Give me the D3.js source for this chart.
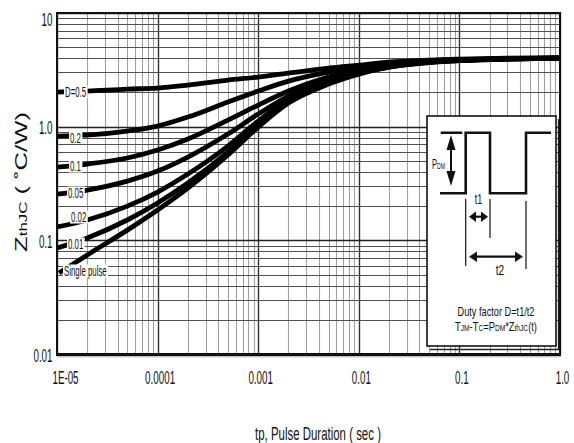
<!DOCTYPE html>
<html><head><meta charset="utf-8">
<script src="https://cdn.jsdelivr.net/npm/d3@7"></script>
<style>body{margin:0;background:#fff;} svg{display:block;font-family:"Liberation Sans",Arial,sans-serif;}</style>
</head><body>
<script>
// ---- data ----
const times = [1e-5, 2e-5, 5e-5, 1e-4, 2e-4, 5e-4, 1e-3, 2e-3, 5e-3, 1e-2, 2e-2, 5e-2, 0.1, 0.3, 1];
const singleTimes = [1.05e-5, 2e-5, 5e-5, 1e-4, 2e-4, 5e-4, 1e-3, 2e-3, 5e-3, 1e-2, 2e-2, 5e-2, 0.1, 0.3, 1];
const d050 = [2.015, 2.056, 2.141, 2.185, 2.322, 2.570, 2.731, 2.961, 3.276, 3.481, 3.700, 3.853, 3.932, 4.012, 4.053];
const d020 = [0.827, 0.844, 0.915, 1.012, 1.214, 1.646, 2.056, 2.518, 3.021, 3.343, 3.625, 3.814, 3.892, 3.972, 4.012];
const d010 = [0.441, 0.469, 0.530, 0.623, 0.778, 1.143, 1.549, 2.056, 2.731, 3.146, 3.481, 3.776, 3.853, 3.972, 4.012];
const d005 = [0.255, 0.277, 0.332, 0.407, 0.540, 0.861, 1.291, 1.858, 2.570, 3.083, 3.412, 3.700, 3.853, 3.972, 4.012];
const d002 = [0.131, 0.151, 0.200, 0.266, 0.383, 0.675, 1.120, 1.749, 2.468, 3.021, 3.377, 3.700, 3.814, 3.932, 4.012];
const d001 = [0.0855, 0.105, 0.151, 0.213, 0.319, 0.598, 1.033, 1.680, 2.418, 2.961, 3.343, 3.700, 3.814, 3.932, 4.012];
const single = [0.0516, 0.0743, 0.123, 0.185, 0.288, 0.563, 0.992, 1.613, 2.370, 2.901, 3.343, 3.662, 3.814, 3.932, 4.012];
const seriesLabels = ["D=0.5", "0.2", "0.1", "0.05", "0.02", "0.01", "Single pulse"];
const xTickValues = [1e-5, 1e-4, 1e-3, 1e-2, 1e-1, 1];
const xTickLabels = ["1E-05", "0.0001", "0.001", "0.01", "0.1", "1.0"];
const yTickValues = [0.01, 0.1, 1, 10];
const yTickLabels = ["0.01", "0.1", "1.0", "10"];

const W = 574, H = 443;
const L = 57, R = 560, T = 13, B = 354;
const svg = d3.select("body").append("svg").attr("width", W).attr("height", H);

const x = d3.scaleLog().domain([1e-5, 1]).range([L, R]);
const y = d3.scaleLog().domain([0.01, 10]).range([B, T]);
const isDecade = v => Math.abs(Math.log10(v) - Math.round(Math.log10(v))) < 1e-6;

function ctext(parent, px, py, str, size, sx, anchor, rot) {
  const g = parent.append("g").attr("transform", `translate(${px},${py})` + (rot ? ` rotate(${rot})` : ""));
  const t = g.append("text").attr("font-size", size).attr("text-anchor", anchor || "start").attr("fill", "#111");
  if (typeof str === "string") t.text(str);
  else str.forEach(p => t.append("tspan").attr("font-size", p[1]).attr("dy", p[2] || 0).text(p[0]));
  t.attr("transform", `scale(${sx},1)`);
  return t;
}
function fitText(parent, px, py, str, size, width, anchor, rot) {
  const t = ctext(parent, px, py, str, size, 1, anchor, rot);
  const w = t.node().getComputedTextLength();
  t.attr("transform", `scale(${width / w},1)`);
  return t;
}

// ---- grid ----
const grid = svg.append("g");
x.ticks().forEach(v => {
  const xp = Math.round(x(v)) + 0.5;
  grid.append("line").attr("x1", xp).attr("x2", xp).attr("y1", T).attr("y2", B)
    .attr("stroke", isDecade(v) ? "#333" : "#a0a0a0").attr("stroke-width", isDecade(v) ? 1.4 : 1.1);
});
y.ticks().forEach(v => {
  const yp = Math.round(y(v)) + 0.5;
  grid.append("line").attr("x1", L).attr("x2", R).attr("y1", yp).attr("y2", yp)
    .attr("stroke", isDecade(v) ? "#222" : "#505050").attr("stroke-width", isDecade(v) ? 1.5 : 1.2);
});

// ---- curves ----
svg.append("clipPath").attr("id", "clip").append("rect").attr("x", L).attr("y", T).attr("width", R - L).attr("height", B - T);
const series = [
  {t: times, v: d050}, {t: times, v: d020}, {t: times, v: d010}, {t: times, v: d005},
  {t: times, v: d002}, {t: times, v: d001}, {t: singleTimes, v: single}
];
const line = d3.line().x(d => x(d[0])).y(d => y(d[1])).curve(d3.curveMonotoneX);
const cg = svg.append("g").attr("clip-path", "url(#clip)");
series.forEach(s => {
  cg.append("path").attr("d", line(s.t.map((t, i) => [t, s.v[i]])))
    .attr("fill", "none").attr("stroke", "#000").attr("stroke-width", 4.8).attr("stroke-linejoin", "round");
});

// ---- curve labels ----
const labelPos = [[65, 92], [70, 137.5], [70, 166], [68, 193], [71, 217], [68, 244], [64, 271]];
const lg = svg.append("g");
seriesLabels.forEach((s, i) => {
  const [lx, ly] = labelPos[i];
  const rect = lg.append("rect").attr("fill", "#fff");
  const t = ctext(lg, lx, ly + 5, s, 14, 0.56, "start");
  const w = t.node().getComputedTextLength() * 0.56;
  rect.attr("x", lx - 1).attr("y", ly - 6.5).attr("width", w + 2.5).attr("height", 13);
});

// ---- inset ----
const ins = svg.append("g");
ins.append("path").attr("d", "M430,349.5 H558.5 V119").attr("fill", "none").attr("stroke", "#222").attr("stroke-width", 1.3);
ins.append("rect").attr("x", 427).attr("y", 116).attr("width", 129).attr("height", 230)
  .attr("fill", "#fff").attr("stroke", "#111").attr("stroke-width", 1.6);
ins.append("path").attr("d", "M440,193.3 H465.7 V132.7 H490 V193.3 H526 V132.7 H551 M440.7,132.7 H462.3")
  .attr("fill", "none").attr("stroke", "#111").attr("stroke-width", 2.6);
[[465.7, 199, 266], [490, 199, 238], [526, 201, 269]].forEach(([lx, y1, y2]) =>
  ins.append("line").attr("x1", lx).attr("x2", lx).attr("y1", y1).attr("y2", y2).attr("stroke", "#111").attr("stroke-width", 1.2));
ins.append("line").attr("x1", 451).attr("x2", 451).attr("y1", 145).attr("y2", 176).attr("stroke", "#111").attr("stroke-width", 2);
ins.append("path").attr("d", "M451,135 L446.5,150 L455.5,150 Z M451,186 L446.5,171 L455.5,171 Z").attr("fill", "#111");
ins.append("line").attr("x1", 474).attr("x2", 483).attr("y1", 216.7).attr("y2", 216.7).attr("stroke", "#111").attr("stroke-width", 2.2);
ins.append("path").attr("d", "M469,216.7 L476,211.5 L476,221.9 Z M488,216.7 L481,211.5 L481,221.9 Z").attr("fill", "#111");
ins.append("line").attr("x1", 475).attr("x2", 517).attr("y1", 256.7).attr("y2", 256.7).attr("stroke", "#111").attr("stroke-width", 2.2);
ins.append("path").attr("d", "M469,256.7 L477,251.5 L477,261.9 Z M523,256.7 L515,251.5 L515,261.9 Z").attr("fill", "#111");
fitText(ins, 432, 169, [["P", 14], ["DM", 9.5]], 14, 13, "start");
fitText(ins, 478.5, 203.5, "t1", 14, 7.5, "middle");
fitText(ins, 500, 274.5, "t2", 14, 8.5, "middle");
fitText(ins, 496, 316, "Duty factor D=t1/t2", 12, 77, "middle");
fitText(ins, 496, 330.5, [["T", 12], ["JM", 8.5], ["-T", 12], ["C", 8.5], ["=P", 12], ["DM", 8.5], ["*Z", 12], ["thJC", 8.5], ["(t)", 12]], 12, 82, "middle");

// ---- frame ----
const fr = svg.append("g").attr("fill", "none").attr("stroke", "#111");
fr.append("line").attr("x1", L - 1).attr("x2", R + 1).attr("y1", T).attr("y2", T).attr("stroke-width", 2);
fr.append("line").attr("x1", L).attr("x2", L).attr("y1", T).attr("y2", B).attr("stroke-width", 2);
fr.append("line").attr("x1", R).attr("x2", R).attr("y1", T).attr("y2", B).attr("stroke-width", 2);
fr.append("line").attr("x1", L - 1).attr("x2", R + 1).attr("y1", B + 0.5).attr("y2", B + 0.5).attr("stroke-width", 3);
fr.append("line").attr("x1", L).attr("x2", R + 1).attr("y1", B + 2.8).attr("y2", B + 2.8).attr("stroke", "#aaa").attr("stroke-width", 1);

// ---- axes ----
const xAxis = d3.axisBottom(x).tickValues(xTickValues).tickSize(0).tickFormat((d, i) => xTickLabels[i]);
const xa = svg.append("g").attr("transform", `translate(0,${B})`).call(xAxis);
xa.select(".domain").remove();
xa.selectAll("text").attr("font-size", 17.5).attr("fill", "#111").attr("font-family", "Liberation Sans, Arial, sans-serif")
  .attr("dy", null).attr("y", 30)
  .attr("transform", (d, i) => `translate(${i === 0 ? 8 : 2},0) scale(0.56,1)`);
const yAxis = d3.axisLeft(y).tickValues(yTickValues).tickSize(0).tickFormat((d, i) => yTickLabels[i]);
const ya = svg.append("g").attr("transform", `translate(${L - 4.5},0)`).call(yAxis);
ya.select(".domain").remove();
ya.selectAll("text").attr("font-size", 17.5).attr("fill", "#111").attr("font-family", "Liberation Sans, Arial, sans-serif")
  .attr("x", 0).attr("dy", null).attr("y", d => d === 10 ? 12 : 7)
  .attr("transform", "scale(0.56,1)");

// ---- titles ----
fitText(svg, 318, 440, "tp, Pulse Duration ( sec )", 19, 126, "middle");
fitText(svg, 27, 182, [["Z", 16], ["thJC", 10.5], [" ( \u02DAC/W)", 16]], 16, 140, "middle", -90);
</script>
</body></html>
